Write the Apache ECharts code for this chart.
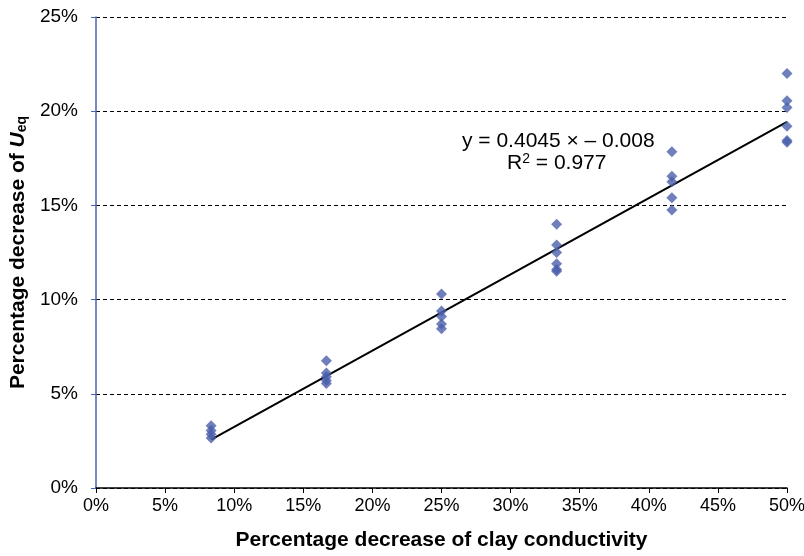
<!DOCTYPE html>
<html><head><meta charset="utf-8">
<script src="https://cdn.jsdelivr.net/npm/echarts@6/dist/echarts.min.js"></script>
<style>html,body{margin:0;padding:0;background:#fff}#c{width:804px;height:556px}</style>
</head><body><div id="c"></div>
<script>
// x values (% decrease of clay conductivity)
var xGroups = [8.33, 16.67, 25, 33.33, 41.67, 50];
// y values (% decrease of Ueq) per group
var yGroup1 = [3.3, 3.05, 2.85, 2.65];
var yGroup2 = [6.75, 6.1, 5.9, 5.7, 5.55];
var yGroup3 = [10.3, 9.4, 9.1, 8.7, 8.45];
var yGroup4 = [14.0, 12.9, 12.5, 11.9, 11.6, 11.5];
var yGroup5 = [17.85, 16.55, 16.25, 15.4, 14.75];
var yGroup6 = [22.0, 20.55, 20.2, 19.2, 18.45, 18.35];
var trendX = [8.33, 50];
var trendY = [2.57, 19.43];
var xTicks = ['0%','5%','10%','15%','20%','25%','30%','35%','40%','45%','50%'];
var yTicks = ['0%','5%','10%','15%','20%','25%'];

var groups = [yGroup1, yGroup2, yGroup3, yGroup4, yGroup5, yGroup6];
var pts = [];
groups.forEach(function(g, i){ g.forEach(function(v){ pts.push([xGroups[i], v]); }); });
var trend = trendX.map(function(x, i){ return [x, trendY[i]]; });

var chart = echarts.init(document.getElementById('c'));
var font = 'Liberation Sans, Arial, sans-serif';
chart.setOption({
  animation: false,
  grid: {left: 96, right: 17, top: 17, bottom: 68, outerBoundsMode: 'none', containLabel: false},
  xAxis: {
    type: 'value', min: 0, max: 50, interval: 5,
    name: 'Percentage decrease of clay conductivity',
    nameLocation: 'middle', nameGap: 42,
    nameTextStyle: {fontFamily: font, fontSize: 21, fontWeight: 'bold', color: '#000'},
    axisLine: {show: true, onZero: false, lineStyle: {color: '#000', width: 1.5}},
    axisTick: {show: true, length: 5, lineStyle: {color: '#000'}},
    axisLabel: {margin: 9, fontFamily: font, fontSize: 18, color: '#000',
      formatter: function(v){ return xTicks[Math.round(v/5)]; }},
    splitLine: {show: false}
  },
  yAxis: {
    type: 'value', min: 0, max: 25, interval: 5,
    name: '{b|Percentage decrease of }{i|U}{s|eq}',
    nameLocation: 'middle', nameGap: 63,
    nameTextStyle: {fontFamily: font, fontSize: 21, fontWeight: 'bold', color: '#000',
      rich: {
        b: {fontFamily: font, fontSize: 21, fontWeight: 'bold', color: '#000'},
        i: {fontFamily: font, fontSize: 21, fontWeight: 'bold', fontStyle: 'italic', color: '#000'},
        s: {fontFamily: font, fontSize: 14, fontWeight: 'bold', color: '#000', verticalAlign: 'bottom', padding: [8,0,0,0]}
      }},
    axisLine: {show: true, lineStyle: {color: '#4a66b0', width: 1.5}},
    axisTick: {show: true, length: 5, lineStyle: {color: '#4a66b0'}},
    axisLabel: {margin: 18, fontFamily: font, fontSize: 19, color: '#000',
      formatter: function(v){ return yTicks[Math.round(v/5)]; }},
    splitLine: {show: true, lineStyle: {color: '#000', type: [4,3], width: 1}}
  },
  series: [
    {type: 'line', data: trend, symbol: 'none', lineStyle: {color: '#000', width: 2}, z: 2},
    {type: 'scatter', data: pts, symbol: 'diamond', symbolSize: 11,
      itemStyle: {color: '#4a5fab'}, z: 3}
  ],
  graphic: [
    {type: 'text', left: 462, top: 131, style: {text: 'y = 0.4045 × – 0.008', font: '21px Liberation Sans, Arial', fill: '#000'}},
    {type: 'text', left: 507, top: 152, style: {
      text: '{a|R}{s|2}{a| = 0.977}',
      rich: {a: {fontFamily: font, fontSize: 21, color: '#000'}, s: {fontFamily: font, fontSize: 14, color: '#000', verticalAlign: 'top', padding: [0,0,9,0]}}
    }}
  ]
});
</script>
</body></html>
